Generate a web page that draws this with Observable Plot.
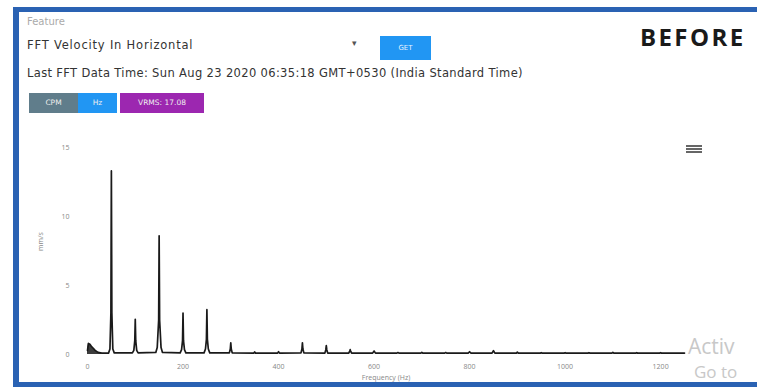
<!DOCTYPE html>
<html>
<head>
<meta charset="utf-8">
<script src="https://cdn.jsdelivr.net/npm/d3@7"></script>
<script src="https://cdn.jsdelivr.net/npm/@observablehq/plot@0.6"></script>
<style>
  html, body { margin: 0; padding: 0; background: #fff; }
  #frame { position: relative; width: 757px; height: 387px; overflow: hidden; background: #fff; font-family: "DejaVu Sans", sans-serif; }
  .bt { position: absolute; left: 13px; top: 7px; width: 744px; height: 5px; background: #2a62b3; }
  .bl { position: absolute; left: 13px; top: 7px; width: 6px; height: 380px; background: #2a62b3; }
  .bb { position: absolute; left: 13px; top: 382px; width: 744px; height: 5px; background: #2a62b3; }
  .t { position: absolute; white-space: nowrap; }
  #chart { position: absolute; left: 0; top: 120px; }
  .btn { position: absolute; color: #eee; font-size: 7.5px; text-align: center; line-height: 20px; height: 20px; top: 93px; }
</style>
</head>
<body>
<div id="frame">
  <div class="bt"></div><div class="bl"></div><div class="bb"></div>
  <div class="t" style="left:27px;top:16px;font-size:10px;color:#aaa;">Feature</div>
  <div class="t" style="left:27px;top:38px;font-size:11.5px;letter-spacing:0.8px;color:#333;">FFT Velocity In Horizontal</div>
  <div class="t" style="left:352px;top:38px;font-size:9px;color:#555;">▾</div>
  <div class="t" style="left:380px;top:36px;width:51px;height:24px;background:#2196f3;color:#e8f2ff;font-size:7px;line-height:24px;text-align:center;">GET</div>
  <div class="t" style="left:27px;top:66px;font-size:11.5px;letter-spacing:0.35px;color:#333;">Last FFT Data Time: Sun Aug 23 2020 06:35:18 GMT+0530 (India Standard Time)</div>
  <div class="btn" style="left:29px;width:49px;background:#607d8b;">CPM</div>
  <div class="btn" style="left:78px;width:39px;background:#2196f3;">Hz</div>
  <div class="btn" style="left:120px;width:84px;background:#9c27b0;">VRMS: 17.08</div>
  <div class="t" style="left:640px;top:20px;font-family:'Open Sans',sans-serif;font-size:24px;font-weight:bold;letter-spacing:2.4px;color:#1a1a1a;">BEFORE</div>
  <div id="chart"></div>
  <div class="t" style="left:686px;top:145px;width:16px;height:1.5px;background:#666;box-shadow:0 3px 0 #666, 0 6px 0 #666;"></div>
  <div class="t" style="left:688px;top:332px;font-family:'Open Sans',sans-serif;font-size:21px;color:#c8c8c8;">Activ</div>
  <div class="t" style="left:694px;top:360px;font-family:'Open Sans',sans-serif;font-size:17px;color:#c8c8c8;">Go to</div>
</div>
<script>
// Spectrum: frequency (Hz) and velocity (mm/s)
const freqHz = [
  0, 2, 5, 8, 12, 16, 22, 30, 44, 47, 49, 50, 51, 53, 56,
  94, 97, 99, 100, 101, 103, 106,
  143, 146, 149, 150, 151, 154, 157,
  194, 197, 199, 200, 201, 203, 206,
  244, 247, 249, 250, 251, 253, 256,
  297, 299, 300, 301, 303,
  348, 350, 352,
  398, 400, 402,
  447, 449, 450, 451, 453,
  497, 499, 500, 501, 503,
  547, 549, 550, 551, 553,
  597, 600, 603,
  648, 650, 652,
  698, 700, 702,
  748, 750, 752,
  797, 800, 803,
  847, 850, 853,
  898, 900, 902,
  948, 950, 952,
  998, 1000, 1002,
  1048, 1050, 1052,
  1098, 1100, 1102,
  1148, 1150, 1152,
  1198, 1200, 1202,
  1250
];
const velocity = [
  0.3, 0.8, 0.75, 0.6, 0.45, 0.3, 0.15, 0.1, 0.1, 0.4, 3.0, 13.3, 3.0, 0.4, 0.12,
  0.12, 0.3, 1.0, 2.55, 1.0, 0.3, 0.12,
  0.15, 0.5, 2.5, 8.6, 2.5, 0.5, 0.15,
  0.12, 0.35, 1.0, 3.0, 1.0, 0.35, 0.12,
  0.12, 0.4, 1.1, 3.25, 1.1, 0.4, 0.12,
  0.12, 0.4, 0.85, 0.4, 0.12,
  0.1, 0.18, 0.1,
  0.1, 0.2, 0.1,
  0.12, 0.4, 0.85, 0.4, 0.12,
  0.1, 0.35, 0.65, 0.35, 0.1,
  0.1, 0.25, 0.35, 0.25, 0.1,
  0.1, 0.25, 0.1,
  0.1, 0.14, 0.1,
  0.1, 0.16, 0.1,
  0.1, 0.14, 0.1,
  0.1, 0.2, 0.1,
  0.1, 0.28, 0.1,
  0.1, 0.17, 0.1,
  0.1, 0.13, 0.1,
  0.1, 0.13, 0.1,
  0.1, 0.13, 0.1,
  0.1, 0.16, 0.1,
  0.1, 0.13, 0.1,
  0.1, 0.13, 0.1,
  0.1
];
const yTicks = [0, 5, 10, 15];
const xTicks = [0, 200, 400, 600, 800, 1000, 1200];

const data = freqHz.map((f, i) => ({f, v: velocity[i]}));
const lowBand = data.filter(d => d.f <= 30);

const chart = Plot.plot({
  width: 757,
  height: 265,
  marginLeft: 87,
  marginRight: 73,
  marginTop: 27,
  marginBottom: 31,
  style: {fontFamily: "Open Sans, sans-serif", fontSize: "7px", color: "#888", background: "transparent"},
  x: {domain: [0, 1250], label: null},
  y: {domain: [0, 15], label: null},
  marks: [
    Plot.axisX({ticks: xTicks, tickSize: 0, tickPadding: 10, tickFormat: d => String(d), fill: "#888", label: null}),
    Plot.axisY({ticks: yTicks, tickSize: 0, tickPadding: 18, tickFormat: d => String(d), fill: "#888", label: null}),
    Plot.text(["Frequency (Hz)"], {frameAnchor: "bottom", dy: 25, fill: "#888", fontSize: 7}),
    Plot.text(["mm/s"], {frameAnchor: "left", dx: -47, rotate: -90, fill: "#888", fontSize: 7}),
    Plot.areaY(lowBand, {x: "f", y: "v", fill: "#1a1a1a", fillOpacity: 0.85, curve: "linear"}),
    Plot.lineY(data, {x: "f", y: "v", stroke: "#1a1a1a", strokeWidth: 1.7, curve: "linear"})
  ]
});
document.getElementById("chart").appendChild(chart);
</script>
</body>
</html>
